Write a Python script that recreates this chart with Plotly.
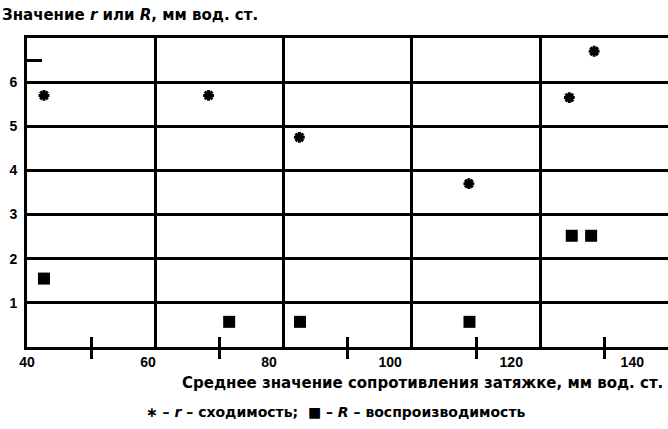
import plotly.graph_objects as go

# Data
r_x = [42.8, 70.0, 85.0, 113.0, 129.6, 133.7]
r_y = [5.7, 5.7, 4.75, 3.7, 5.65, 6.7]
R_x = [42.8, 73.4, 85.1, 113.1, 130.0, 133.2]
R_y = [1.55, 0.57, 0.57, 0.57, 2.52, 2.52]

x_tickvals = [40, 60, 80, 100, 120, 140]
x_ticktext = ["40", "60", "80", "100", "120", "140"]
y_tickvals = [1, 2, 3, 4, 5, 6]
y_ticktext = ["1", "2", "3", "4", "5", "6"]

FONT = "Liberation Sans, Arial, sans-serif"
WIDE = "DejaVu Sans, Liberation Sans, sans-serif"
W, H = 668, 429
ML, MR, MT, MB = 27, 0, 38, 82
PW, PH = W - ML - MR, H - MT - MB

fig = go.Figure()
fig.add_trace(go.Scatter(x=r_x, y=r_y, mode="markers", name="r",
                         marker=dict(symbol="asterisk-open", size=9, color="black",
                                     line=dict(width=3, color="black"))))
fig.add_trace(go.Scatter(x=R_x, y=R_y, mode="markers", name="R",
                         marker=dict(symbol="square", size=12, color="black")))
# invisible trace to activate overlay axis
fig.add_trace(go.Scatter(x=[None], y=[None], xaxis="x2", showlegend=False))

xr = [40, 145.9]
fig.update_layout(
    width=W, height=H,
    margin=dict(l=ML, r=MR, t=MT, b=MB, autoexpand=False),
    plot_bgcolor="white", paper_bgcolor="white",
    showlegend=False,
    xaxis=dict(range=xr, tickvals=x_tickvals, ticktext=x_ticktext, ticks="",
               automargin=False,
               showgrid=False, zeroline=False, showline=True, linewidth=3,
               linecolor="black", mirror=True,
               tickfont=dict(family=FONT, size=14, color="black", weight="bold"),
               minor=dict(tick0=50.6, dtick=21.2, ticks="outside", ticklen=9,
                          tickwidth=2.5, tickcolor="black", showgrid=False)),
    xaxis2=dict(range=xr, overlaying="x", anchor="y", side="bottom",
                automargin=False,
                tick0=40, dtick=21.2, showgrid=True, gridcolor="black",
                gridwidth=3, showticklabels=False, ticks="", zeroline=False,
                minor=dict(tick0=50.6, dtick=21.2, ticks="inside", ticklen=10,
                           tickwidth=2.5, tickcolor="black", showgrid=False)),
    yaxis=dict(range=[0, 7], tickvals=y_tickvals, ticktext=y_ticktext, ticks="",
               automargin=False, ticklabelstandoff=4,
               showgrid=True, gridcolor="black", gridwidth=2.5, zeroline=False,
               showline=True, linewidth=3, linecolor="black",
               tickfont=dict(family=FONT, size=14, color="black", weight="bold"),
               minor=dict(tick0=6.5, dtick=100, ticks="inside", ticklen=15,
                          tickwidth=2.5, tickcolor="black", showgrid=False)),
)

fig.add_annotation(text="Значение <i>r</i> или <i>R</i>, мм вод. ст.",
                   xref="paper", yref="paper", x=-ML / PW, y=1 + 23 / PH,
                   xanchor="left", yanchor="middle", showarrow=False,
                   font=dict(family=WIDE, size=15, color="black", weight="bold"))
fig.add_annotation(text="Среднее значение сопротивления затяжке, мм вод. ст.",
                   xref="paper", yref="paper", x=1 - 3 / PW, y=-36 / PH,
                   xanchor="right", yanchor="middle", showarrow=False,
                   font=dict(family=WIDE, size=15, color="black", weight="bold"))
fig.add_annotation(text="∗ – <i>r</i> – сходимость;  ■ – <i>R</i> – воспроизводимость",
                   xref="paper", yref="paper", x=(335 - ML) / PW, y=-65 / PH,
                   xanchor="center", yanchor="middle", showarrow=False,
                   font=dict(family=WIDE, size=14, color="black", weight="bold"))

fig.write_html("out.html", config={"displayModeBar": False},
               post_script="document.body.style.margin='0';document.body.style.overflow='hidden';")
